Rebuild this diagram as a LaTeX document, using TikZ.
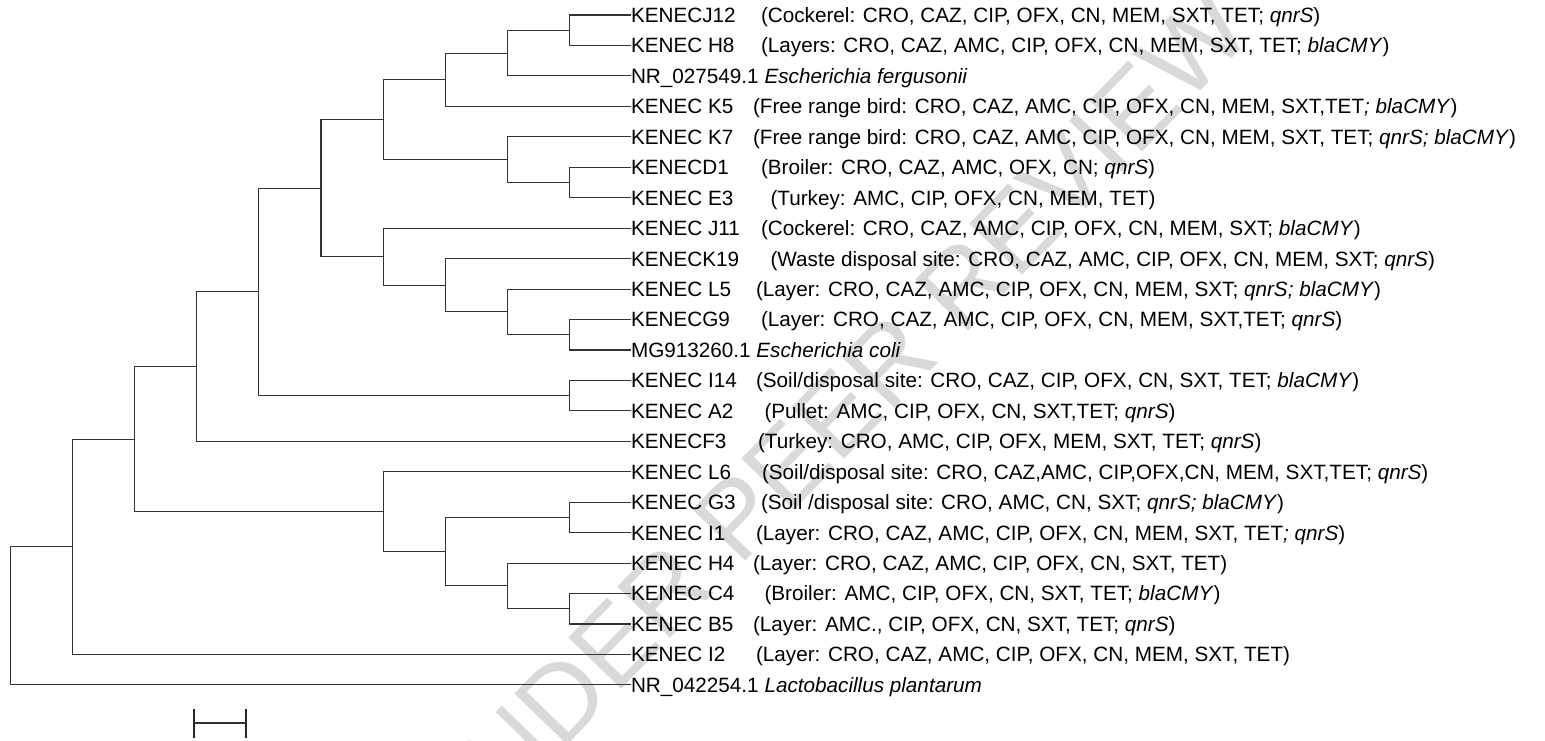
\documentclass[tikz,border=0pt]{standalone}
\usepackage{fontspec}
\setmainfont{Liberation Sans}
\usetikzlibrary{calc}
\begin{document}
\begin{tikzpicture}[x=1pt,y=-1pt,
  branch/.style={draw=black!80,line width=1.1pt},
  tickmark/.style={draw=black!85,line width=1.8pt},
  lab/.style={anchor=west,inner sep=0pt,outer sep=0pt,font=\fontsize{20.7}{24}\selectfont,text height=14.8pt,text depth=0pt},
  wmark/.style={text=black!15,inner sep=0pt,font=\fontsize{107}{120}\selectfont,rotate=45.9}]
\useasboundingbox (0,0) rectangle (1545,741);
% watermark
\node[wmark] (wm) at (829,423) {UNDER PEER REVIEW};
% leaf labels
\def\lx{631}
\node[lab] (l1)  at (\lx,15)     {KENECJ12};
\node[lab] (l2)  at (\lx,45.45)  {KENEC H8};
\node[lab] (l3)  at (\lx,75.9)   {NR\_027549.1 \textit{Escherichia fergusonii}};
\node[lab] (l4)  at (\lx,106.35) {KENEC K5};
\node[lab] (l5)  at (\lx,136.8)  {KENEC K7};
\node[lab] (l6)  at (\lx,167.25) {KENECD1};
\node[lab] (l7)  at (\lx,197.7)  {KENEC E3};
\node[lab] (l8)  at (\lx,228.15) {KENEC J11};
\node[lab] (l9)  at (\lx,258.6)  {KENECK19};
\node[lab] (l10) at (\lx,289.05) {KENEC L5};
\node[lab] (l11) at (\lx,319.5)  {KENECG9};
\node[lab] (l12) at (\lx,349.95) {MG913260.1 \textit{Escherichia coli}};
\node[lab] (l13) at (\lx,380.4)  {KENEC I14};
\node[lab] (l14) at (\lx,410.85) {KENEC A2};
\node[lab] (l15) at (\lx,441.3)  {KENECF3};
\node[lab] (l16) at (\lx,471.75) {KENEC L6};
\node[lab] (l17) at (\lx,502.2)  {KENEC G3};
\node[lab] (l18) at (\lx,532.65) {KENEC I1};
\node[lab] (l19) at (\lx,563.1)  {KENEC H4};
\node[lab] (l20) at (\lx,593.55) {KENEC C4};
\node[lab] (l21) at (\lx,624)    {KENEC B5};
\node[lab] (l22) at (\lx,654.45) {KENEC I2};
\node[lab] (l23) at (\lx,684.9)  {NR\_042254.1 \textit{Lactobacillus plantarum}};
% descriptions
\node[lab] (d1)  at (761,15)     {(Cockerel: CRO, CAZ, CIP, OFX, CN, MEM, SXT, TET; \textit{qnrS})};
\node[lab] (d2)  at (761,45.45)  {(Layers: CRO, CAZ, AMC, CIP, OFX, CN, MEM, SXT, TET; \textit{blaCMY})};
\node[lab] (d4)  at (753,106.35) {(Free range bird: CRO, CAZ, AMC, CIP, OFX, CN, MEM, SXT,TET\textit{; blaCMY})};
\node[lab] (d5)  at (753,136.8)  {(Free range bird: CRO, CAZ, AMC, CIP, OFX, CN, MEM, SXT, TET; \textit{qnrS; blaCMY})};
\node[lab] (d6)  at (761,167.25) {(Broiler: CRO, CAZ, AMC, OFX, CN; \textit{qnrS})};
\node[lab] (d7)  at (770.5,197.7){(Turkey: AMC, CIP, OFX, CN, MEM, TET)};
\node[lab] (d8)  at (761,228.15) {(Cockerel: CRO, CAZ, AMC, CIP, OFX, CN, MEM, SXT; \textit{blaCMY})};
\node[lab] (d9)  at (770.5,258.6){(Waste disposal site: CRO, CAZ, AMC, CIP, OFX, CN, MEM, SXT; \textit{qnrS})};
\node[lab] (d10) at (756,289.05) {(Layer: CRO, CAZ, AMC, CIP, OFX, CN, MEM, SXT; \textit{qnrS; blaCMY})};
\node[lab] (d11) at (761,319.5)  {(Layer: CRO, CAZ, AMC, CIP, OFX, CN, MEM, SXT,TET; \textit{qnrS})};
\node[lab] (d13) at (756,380.4)  {(Soil/disposal site: CRO, CAZ, CIP, OFX, CN, SXT, TET; \textit{blaCMY})};
\node[lab] (d14) at (764.5,410.85){(Pullet: AMC, CIP, OFX, CN, SXT,TET; \textit{qnrS})};
\node[lab] (d15) at (758,441.3)  {(Turkey: CRO, AMC, CIP, OFX, MEM, SXT, TET; \textit{qnrS})};
\node[lab] (d16) at (762,471.75) {(Soil/disposal site: CRO, CAZ,AMC, CIP,OFX,CN, MEM, SXT,TET; \textit{qnrS})};
\node[lab] (d17) at (761,502.2)  {(Soil /disposal site: CRO, AMC, CN, SXT; \textit{qnrS; blaCMY})};
\node[lab] (d18) at (756,532.65) {(Layer: CRO, CAZ, AMC, CIP, OFX, CN, MEM, SXT, TET\textit{; qnrS})};
\node[lab] (d19) at (753,563.1)  {(Layer: CRO, CAZ, AMC, CIP, OFX, CN, SXT, TET)};
\node[lab] (d20) at (764.5,593.55){(Broiler: AMC, CIP, OFX, CN, SXT, TET; \textit{blaCMY})};
\node[lab] (d21) at (753,624)    {(Layer: AMC., CIP, OFX, CN, SXT, TET; \textit{qnrS})};
\node[lab] (d22) at (756,654.45) {(Layer: CRO, CAZ, AMC, CIP, OFX, CN, MEM, SXT, TET)};
% internal nodes
\coordinate (nA) at (569.64,30.225);
\coordinate (nB) at (507.48,53.06);
\coordinate (nC) at (445.32,79.7);
\coordinate (nF) at (569.64,182.475);
\coordinate (nE) at (507.48,159.64);
\coordinate (nD) at (383.16,119.67);
\coordinate (nK) at (569.64,334.725);
\coordinate (nJ) at (507.48,311.89);
\coordinate (nI) at (445.32,285.24);
\coordinate (nH) at (383.16,256.7);
\coordinate (nG) at (321,188.18);
\coordinate (nM) at (569.64,395.6);
\coordinate (nL) at (258.84,291.9);
\coordinate (nN) at (196.68,366.6);
\coordinate (nR) at (569.64,517.4);
\coordinate (nT) at (569.64,608.8);
\coordinate (nS) at (507.48,585.9);
\coordinate (nQ) at (445.32,551.7);
\coordinate (nP) at (383.16,511.7);
\coordinate (nO) at (134.52,439.2);
\coordinate (nU) at (72.36,546.8);
\coordinate (nRoot) at (10.2,615.9);
% branches
\draw[branch] (l1.west) -| (nA) |- (l2.west);
\draw[branch] (nA) -| (nB) |- (l3.west);
\draw[branch] (nB) -| (nC) |- (l4.west);
\draw[branch] (l6.west) -| (nF) |- (l7.west);
\draw[branch] (l5.west) -| (nE) |- (nF);
\draw[branch] (nC) -| (nD) |- (nE);
\draw[branch] (l11.west) -| (nK) |- (l12.west);
\draw[branch] (l10.west) -| (nJ) |- (nK);
\draw[branch] (l9.west) -| (nI) |- (nJ);
\draw[branch] (l8.west) -| (nH) |- (nI);
\draw[branch] (nD) -| (nG) |- (nH);
\draw[branch] (l13.west) -| (nM) |- (l14.west);
\draw[branch] (nG) -| (nL) |- (nM);
\draw[branch] (nL) -| (nN) |- (l15.west);
\draw[branch] (l17.west) -| (nR) |- (l18.west);
\draw[branch] (l20.west) -| (nT) |- (l21.west);
\draw[branch] (l19.west) -| (nS) |- (nT);
\draw[branch] (nR) -| (nQ) |- (nS);
\draw[branch] (l16.west) -| (nP) |- (nQ);
\draw[branch] (nN) -| (nO) |- (nP);
\draw[branch] (nO) -| (nU) |- (l22.west);
\draw[branch] (nU) -| (nRoot) |- (l23.west);
% scale bar
\coordinate (sbL) at (194,723);
\coordinate (sbR) at (246,723);
\draw[branch] (sbL) -- (sbR);
\draw[tickmark] ($(sbL)+(0,-14)$) -- ($(sbL)+(0,15)$);
\draw[tickmark] ($(sbR)+(0,-14)$) -- ($(sbR)+(0,15)$);
\end{tikzpicture}
\end{document}
